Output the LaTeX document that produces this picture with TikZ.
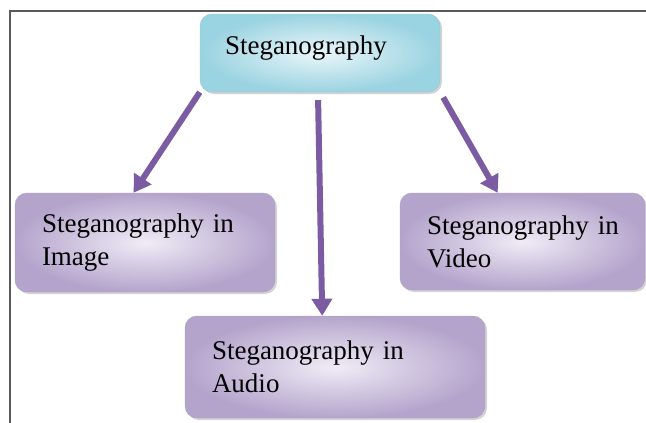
\documentclass[tikz,border=0pt]{standalone}
\usepackage{fontspec}
\setmainfont{Liberation Serif}
\usetikzlibrary{arrows.meta, shadows}

\definecolor{arrowpurple}{HTML}{7B5CA3}
\definecolor{cyanout}{HTML}{9AD3E1}
\definecolor{cyanin}{HTML}{EAF6FA}
\definecolor{purpleout}{HTML}{B4A4CC}
\definecolor{purplein}{HTML}{F0ECF6}
\definecolor{framegray}{HTML}{5A5A5A}

\begin{document}
\begin{tikzpicture}[x=1pt, y=-1pt, >={Triangle[length=17pt,width=20pt]}, font=\fontsize{27}{33}\selectfont]
			\tikzstyle{topic}=[rounded corners=12pt, shade, inner color=cyanin, outer color=cyanout, draw=cyanout!85!gray, thin, text=black, align=left, inner xsep=25pt, drop shadow={shadow xshift=2pt, shadow yshift=-2pt, opacity=0.35}]
			\tikzstyle{subtopic}=[topic, inner color=purplein, outer color=purpleout, draw=purpleout!85!gray, inner xsep=27pt]
			\tikzstyle{link}=[->, draw=arrowpurple, line width=6pt]
			\useasboundingbox (0,0) rectangle (646,423);
			\draw[framegray, line width=2pt] (10,423) -- (10,11) -- (646,11);
			\node[topic, minimum width=240pt, minimum height=78pt, text width=190pt, text depth=15pt] (steg) at (320,53) {Steganography};
			\node[subtopic, minimum width=260pt, minimum height=99pt, text width=206pt] (img) at (145,242.5) {\mbox{Steganography in}\\Image};
			\node[subtopic, minimum width=245pt, minimum height=97pt, text width=191pt] (vid) at (522.5,241.5) {\mbox{Steganography in}\\Video};
			\node[subtopic, minimum width=300pt, minimum height=102pt, text width=246pt] (aud) at (335,367) {\mbox{Steganography in}\\Audio};
			\path
			(steg.south west) edge[link] (img.103.5)
			(steg.267)        edge[link, shorten <=8pt] (aud.104)
			(steg.south east) edge[link, shorten <=6pt] (vid.117.7);
		\end{tikzpicture}
\end{document}
